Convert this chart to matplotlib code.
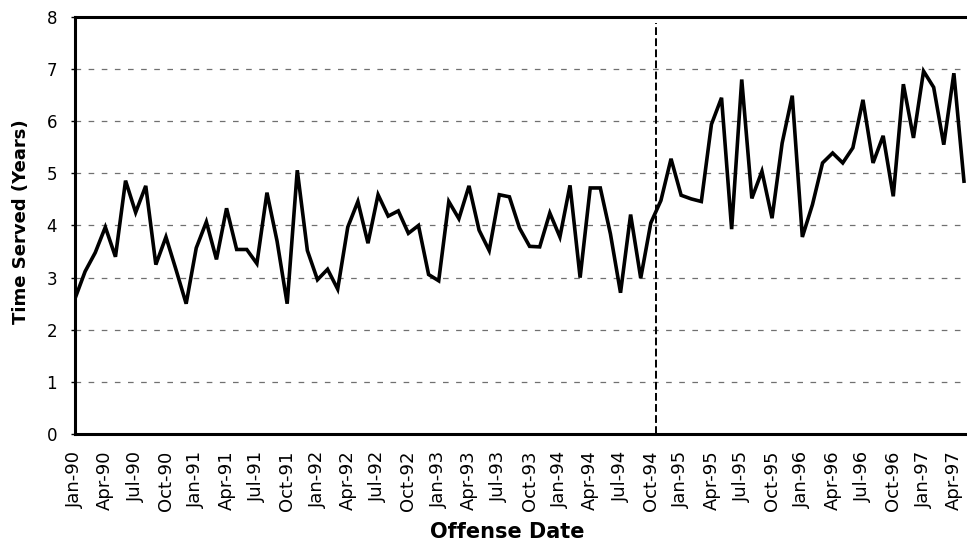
import matplotlib.pyplot as plt
import numpy as np

# Data: monthly average time served, Jan-90 .. May-97
months = ['Jan', 'Feb', 'Mar', 'Apr', 'May', 'Jun', 'Jul', 'Aug', 'Sep', 'Oct', 'Nov', 'Dec']
time_served = [2.60, 3.12, 3.48, 3.97, 3.40, 4.86, 4.25, 4.76, 3.25, 3.78, 3.15, 2.50,
               3.57, 4.07, 3.35, 4.33, 3.54, 3.54, 3.27, 4.63, 3.70, 2.50, 5.06, 3.52,
               2.96, 3.16, 2.78, 3.97, 4.46, 3.66, 4.59, 4.18, 4.28, 3.85, 4.00, 3.06,
               2.94, 4.46, 4.13, 4.76, 3.91, 3.52, 4.59, 4.55, 3.95, 3.60, 3.59, 4.24,
               3.78, 4.77, 3.00, 4.72, 4.72, 3.84, 2.71, 4.21, 2.99, 4.05, 4.48, 5.28,
               4.58, 4.51, 4.46, 5.94, 6.45, 3.93, 6.80, 4.52, 5.04, 4.14, 5.58, 6.49,
               3.78, 4.40, 5.20, 5.39, 5.20, 5.49, 6.41, 5.20, 5.72, 4.56, 6.71, 5.68,
               6.96, 6.65, 5.55, 6.92, 4.85]
date_labels = ['%s-%02d' % (months[i % 12], 90 + i // 12) for i in range(len(time_served))]
break_point = 57.5  # just after Oct-94

x = np.arange(len(time_served))

fig = plt.figure(figsize=(9.67, 5.46), dpi=100)
ax = fig.add_axes([0.0776, 0.205, 0.9224, 0.764])

ax.plot(x, time_served, color='black', lw=2.6, solid_joinstyle='miter', zorder=3)
ax.plot([break_point, break_point], [0, 7.88], color='black', lw=1.4,
        linestyle=(0, (4, 1.7)), zorder=2)

ax.set_ylim(0, 8)
ax.set_xlim(0, 88.3)
ax.set_yticks(range(0, 9))
ax.set_xticks(x[::3])
ax.set_xticklabels(date_labels[::3], rotation=90, fontsize=13)
ax.tick_params(axis='x', length=0, pad=12)
ax.tick_params(axis='y', length=3, width=1, pad=10, labelsize=12)

ax.yaxis.grid(True, color='#707070', lw=0.9, linestyle=(0, (4.5, 6)))
ax.set_axisbelow(True)

for side in ['left', 'top', 'bottom']:
    ax.spines[side].set_linewidth(2.2)
ax.spines['right'].set_visible(False)

ax.set_xlabel('Offense Date', fontsize=15, fontweight='bold')
ax.set_ylabel('Time Served (Years)', fontsize=13, fontweight='bold')
ax.xaxis.set_label_coords(0.485, -0.21)
ax.yaxis.set_label_coords(-0.05, 0.51)

fig.savefig('out.png', dpi=100)
